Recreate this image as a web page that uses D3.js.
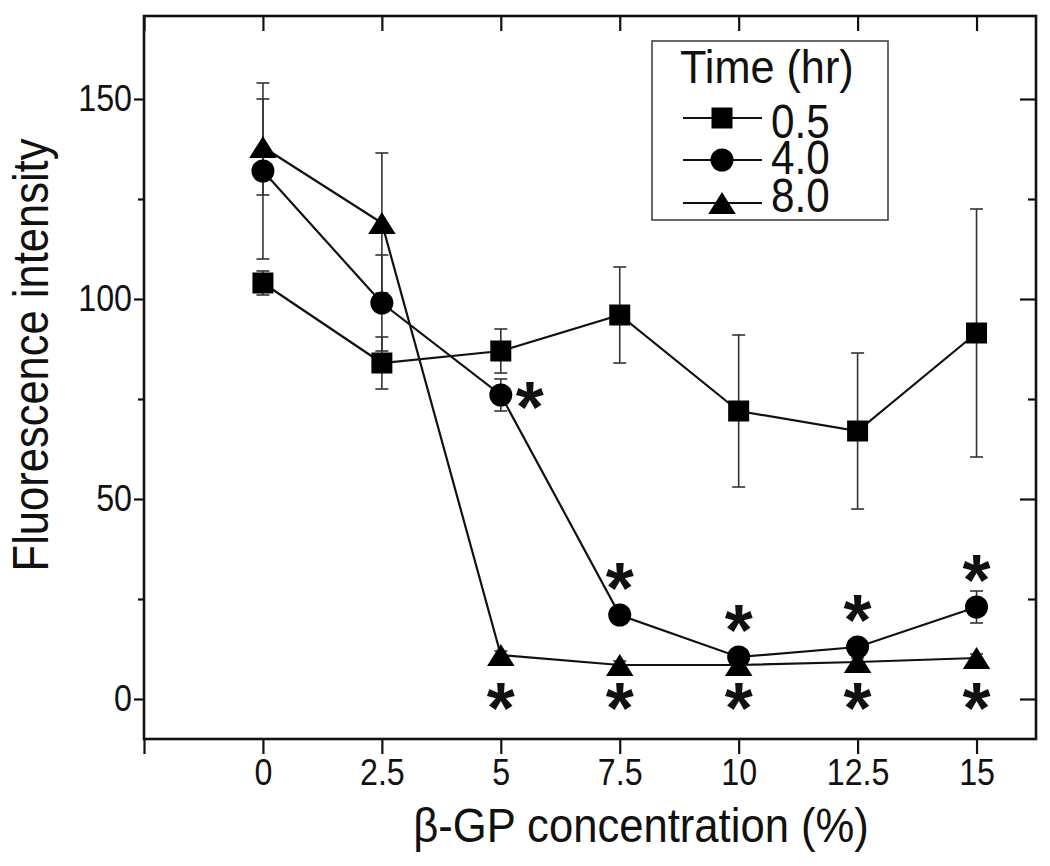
<!DOCTYPE html>
<html>
<head>
<meta charset="utf-8">
<script src="https://cdn.jsdelivr.net/npm/d3@7"></script>
<style>
  body { margin: 0; background: #fff; }
  text { font-family: "Liberation Sans", Arial, sans-serif; fill: #111; }
</style>
</head>
<body>
<div id="chart"></div>
<script>
// data
var conc = [0, 2.5, 5, 7.5, 10, 12.5, 15];
var hr05 = [104, 84, 87, 96, 72, 67, 91.5];
var hr05Err = [3, 6.5, 5.5, 12, 19, 19.5, 31];
var hr4 = [132, 99, 76, 21, 10.5, 13, 23];
var hr4Err = [22, 12, 4, 2, 2, 2, 4];
var hr8 = [138, 119, 11, 8.5, 8.5, 9.25, 10.25];
var hr8Err = [12, 17.5, 1, 1, 1, 1, 1];
var seriesNames = ["0.5", "4.0", "8.0"];
var seriesShapes = ["square", "circle", "triangle"];
var xTicks = [-2.5, 0, 2.5, 5, 7.5, 10, 12.5, 15];
var yTicks = [0, 50, 100, 150];
var yMinor = [25, 75, 125];
// significance stars
var starBelowX = [5, 7.5, 10, 12.5, 15];   // under the 8.0 hr points
var starAboveX = [7.5, 10, 12.5, 15];      // over the 4.0 hr points
var starSideX = [5];                        // right of the 4.0 hr point

var width = 1050, height = 866;
var pLeft = 144, pRight = 1036, pTop = 16, pBottom = 739;
var narrow = 0.87;   // the figure uses a condensed face

var svg = d3.select("#chart")
  .append("svg")
    .attr("width", width)
    .attr("height", height);

var x = d3.scaleLinear()
  .domain([-2.5, 16.25])
  .range([pLeft, pRight]);

var y = d3.scaleLinear()
  .domain([-10, 170.75])
  .range([pBottom, pTop]);

// axes
function styleAxis(g) {
  g.select(".domain").remove();
  g.selectAll(".tick line").attr("stroke", "#111").attr("stroke-width", 2.2);
  g.selectAll(".tick text").style("font-size", "37px").attr("fill", "#111");
}

svg.append("g")
  .attr("transform", "translate(0," + pBottom + ")")
  .call(d3.axisBottom(x).tickValues(xTicks).tickSize(15).tickPadding(5)
    .tickFormat(function (d) { return d < 0 ? "" : d; }))
  .call(styleAxis)
  .selectAll(".tick text").attr("transform", "scale(" + narrow + ",1)");

svg.append("g")
  .attr("transform", "translate(0," + pTop + ")")
  .call(d3.axisBottom(x).tickValues(xTicks).tickSize(15).tickFormat(""))
  .call(styleAxis);

svg.append("g")
  .attr("transform", "translate(" + pLeft + ",0)")
  .call(d3.axisLeft(y).tickValues(yTicks).tickSize(10).tickPadding(2))
  .call(styleAxis)
  .selectAll(".tick text")
    .attr("x", -12 / narrow)
    .attr("transform", "scale(" + narrow + ",1)");

svg.append("g")
  .attr("transform", "translate(" + pLeft + ",0)")
  .call(d3.axisLeft(y).tickValues(yMinor).tickSize(6).tickFormat(""))
  .call(styleAxis);

svg.append("g")
  .attr("transform", "translate(" + pRight + ",0)")
  .call(d3.axisLeft(y).tickValues(yTicks).tickSize(16).tickFormat(""))
  .call(styleAxis);

svg.append("g")
  .attr("transform", "translate(" + pRight + ",0)")
  .call(d3.axisLeft(y).tickValues(yMinor).tickSize(8).tickFormat(""))
  .call(styleAxis);

// frame
svg.append("rect")
  .attr("x", pLeft).attr("y", pTop)
  .attr("width", pRight - pLeft).attr("height", pBottom - pTop)
  .attr("fill", "none")
  .attr("stroke", "#111")
  .attr("stroke-width", 2.6);

// axis titles
svg.append("text")
  .attr("transform", "translate(641,842) scale(0.89,1)")
  .attr("text-anchor", "middle")
  .style("font-size", "49px")
  .text("β-GP concentration (%)");

svg.append("text")
  .attr("transform", "translate(48,355) rotate(-90) scale(0.87,1)")
  .attr("text-anchor", "middle")
  .style("font-size", "50px")
  .text("Fluorescence intensity");

// marker paths centred on their box
function marker(shape, s) {
  if (shape === "square") {
    var h = s / 2;
    return "M" + (-h) + "," + (-h) + "h" + s + "v" + s + "h" + (-s) + "Z";
  }
  if (shape === "circle") {
    var r = s / 2;
    return "M" + r + ",0A" + r + "," + r + " 0 1,1 " + (-r) + ",0A" + r + "," + r + " 0 1,1 " + r + ",0Z";
  }
  var w = s * 1.25, hh = s;
  return "M0," + (-hh / 2) + "L" + (w / 2) + "," + (hh / 2) + "L" + (-w / 2) + "," + (hh / 2) + "Z";
}
var markerSize = {square: 21, circle: 23, triangle: 22};

var series = [
  {name: seriesNames[0], shape: seriesShapes[0], values: hr05, err: hr05Err},
  {name: seriesNames[1], shape: seriesShapes[1], values: hr4, err: hr4Err},
  {name: seriesNames[2], shape: seriesShapes[2], values: hr8, err: hr8Err}
];

var line = d3.line()
  .x(function (d) { return x(d.x); })
  .y(function (d) { return y(d.y); });

var capW = 6.5;

// error bars first
series.forEach(function (s) {
  var pts = conc.map(function (c, i) { return {x: c, y: s.values[i], e: s.err[i]}; });
  var eb = svg.append("g")
    .attr("stroke", "#333")
    .attr("stroke-width", 1.6);
  eb.selectAll("line.v").data(pts).enter().append("line")
    .attr("x1", function (d) { return x(d.x); })
    .attr("x2", function (d) { return x(d.x); })
    .attr("y1", function (d) { return y(d.y - d.e); })
    .attr("y2", function (d) { return y(d.y + d.e); });
  eb.selectAll("line.top").data(pts).enter().append("line")
    .attr("x1", function (d) { return x(d.x) - capW; })
    .attr("x2", function (d) { return x(d.x) + capW; })
    .attr("y1", function (d) { return y(d.y + d.e); })
    .attr("y2", function (d) { return y(d.y + d.e); });
  eb.selectAll("line.bot").data(pts).enter().append("line")
    .attr("x1", function (d) { return x(d.x) - capW; })
    .attr("x2", function (d) { return x(d.x) + capW; })
    .attr("y1", function (d) { return y(d.y - d.e); })
    .attr("y2", function (d) { return y(d.y - d.e); });
});

// lines and markers
series.forEach(function (s) {
  var pts = conc.map(function (c, i) { return {x: c, y: s.values[i]}; });
  svg.append("path")
    .datum(pts)
    .attr("fill", "none")
    .attr("stroke", "#111")
    .attr("stroke-width", 2.2)
    .attr("d", line);
  svg.append("g")
    .selectAll("path")
    .data(pts)
    .enter()
    .append("path")
      .attr("transform", function (d) { return "translate(" + x(d.x) + "," + y(d.y) + ")"; })
      .attr("d", marker(s.shape, markerSize[s.shape]))
      .attr("fill", "#000");
});

// stars
var starFs = 72;
function star(px, py) {
  svg.append("text")
    .attr("x", px).attr("y", py + starFs * 0.46)
    .attr("text-anchor", "middle")
    .style("font-weight", "bold")
    .style("font-size", starFs + "px")
    .text("*");
}
starBelowX.forEach(function (c) { star(x(c), y(0) + 1); });
starAboveX.forEach(function (c) {
  var i = conc.indexOf(c);
  star(x(c), y(hr4[i]) - 35);
});
starSideX.forEach(function (c) {
  var i = conc.indexOf(c);
  star(x(c) + 29, y(hr4[i]) + 4);
});

// legend
var lg = svg.append("g");
lg.append("rect")
  .attr("x", 652).attr("y", 41)
  .attr("width", 236).attr("height", 179)
  .attr("fill", "#fff")
  .attr("stroke", "#444")
  .attr("stroke-width", 1.6);
lg.append("text")
  .attr("transform", "translate(680,83) scale(0.94,1)")
  .style("font-size", "46px")
  .text("Time (hr)");
var legY = [118, 160, 203];
var legBase = [138, 174, 212];
series.forEach(function (s, i) {
  lg.append("line")
    .attr("x1", 683).attr("x2", 762)
    .attr("y1", legY[i]).attr("y2", legY[i])
    .attr("stroke", "#111").attr("stroke-width", 2);
  lg.append("path")
    .attr("transform", "translate(722," + legY[i] + ")")
    .attr("d", marker(s.shape, markerSize[s.shape]))
    .attr("fill", "#000");
  lg.append("text")
    .attr("transform", "translate(771," + legBase[i] + ") scale(0.88,1)")
    .style("font-size", "48px")
    .text(s.name);
});
</script>
</body>
</html>
